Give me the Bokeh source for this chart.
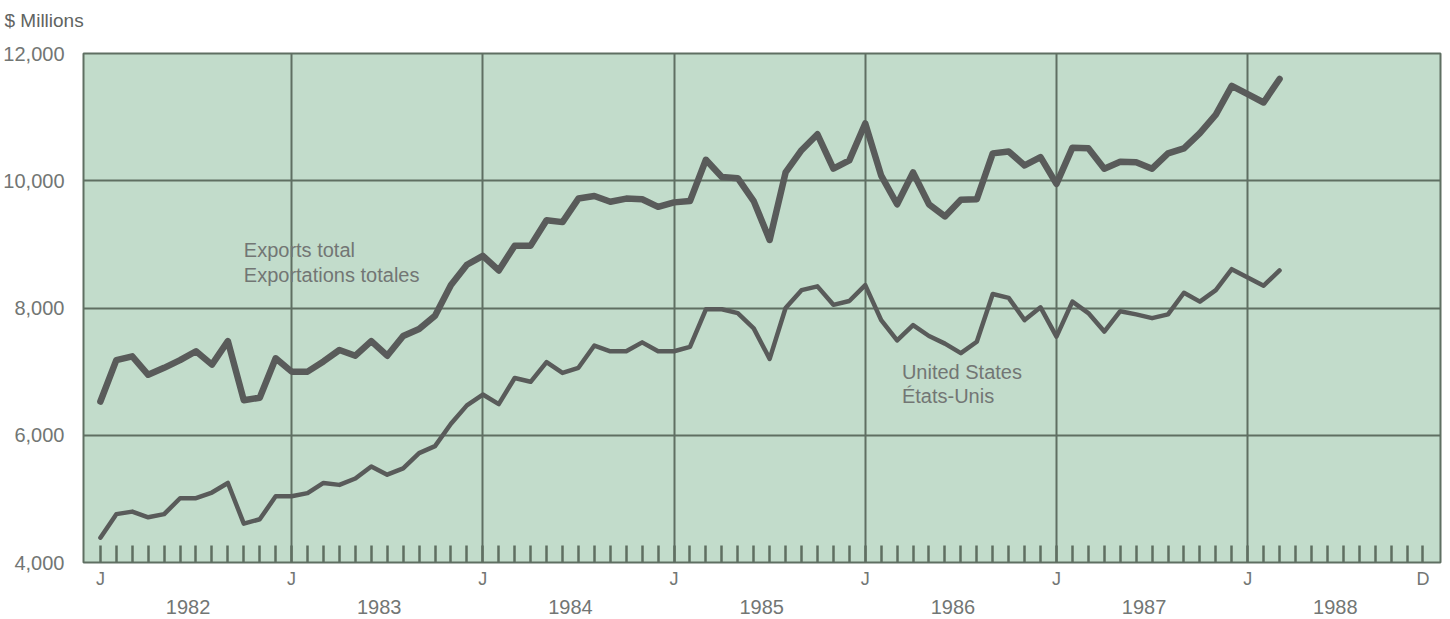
from bokeh.plotting import figure
from bokeh.models import FixedTicker, LinearAxis, Label, Range1d, NumeralTickFormatter
from bokeh.embed import file_html
from bokeh.resources import INLINE

# Monthly data, Jan 1982 (index 0) .. Mar 1988 (index 74), $ millions
months = list(range(75))
exports_total = [6530, 7180, 7240, 6950, 7060, 7180, 7320, 7110, 7480, 6550, 6590, 7210,
                 7000, 7000, 7160, 7340, 7250, 7480, 7250, 7560, 7670, 7880, 8360, 8680,
                 8820, 8590, 8980, 8980, 9380, 9350, 9720, 9760, 9670, 9720, 9710, 9590,
                 9660, 9680, 10330, 10060, 10040, 9680, 9070, 10130, 10480, 10730, 10190, 10320,
                 10900, 10080, 9630, 10130, 9630, 9440, 9700, 9710, 10430, 10460, 10240, 10370,
                 9950, 10520, 10510, 10190, 10300, 10290, 10190, 10430, 10510, 10750, 11040, 11490,
                 11360, 11230, 11600]
united_states = [4390, 4760, 4800, 4710, 4760, 5010, 5010, 5100, 5250, 4610, 4680, 5040,
                 5040, 5090, 5250, 5220, 5320, 5510, 5380, 5480, 5720, 5830, 6180, 6470,
                 6640, 6490, 6900, 6840, 7150, 6980, 7060, 7410, 7320, 7320, 7460, 7320,
                 7320, 7390, 7980, 7980, 7920, 7680, 7200, 8000, 8280, 8340, 8050, 8110,
                 8360, 7810, 7490, 7730, 7560, 7440, 7290, 7470, 8220, 8160, 7810, 8010,
                 7550, 8100, 7920, 7630, 7950, 7900, 7840, 7900, 8240, 8100, 8280, 8610,
                 8480, 8350, 8590]

years = ["1982", "1983", "1984", "1985", "1986", "1987", "1988"]
month_ticks = list(range(84))          # every month Jan 1982 .. Dec 1988
month_letters = {0: "J", 12: "J", 24: "J", 36: "J", 48: "J", 60: "J", 72: "J", 83: "D"}
y_ticks = [4000, 6000, 8000, 10000, 12000]

FONT = "Liberation Sans"
GRID = "#5f6f62"
LINE = "#595b5a"
TXT = "#727674"

p = figure(width=1442, height=617, output_backend="svg", toolbar_location=None,
           x_range=Range1d(-1.06, 84.1), y_range=Range1d(4000, 12000),
           min_border_left=80, min_border_right=2, min_border_top=53, min_border_bottom=55,
           x_axis_location=None, y_axis_location=None)
p.background_fill_color = "#c2dccb"
p.border_fill_color = "white"
p.outline_line_color = GRID
p.outline_line_width = 2

# unit caption (second, blank line lifts the caption towards the top edge)
p.title.text = "$ Millions\n "
p.title.align = "left"
p.title.offset = -79
p.title.standoff = 3
p.title.text_font = FONT
p.title.text_font_size = "19px"
p.title.text_font_style = "normal"
p.title.text_color = "#5f6461"

# grids
p.xgrid.ticker = FixedTicker(ticks=[12, 24, 36, 48, 60, 72])
p.ygrid.ticker = FixedTicker(ticks=[6000, 8000, 10000])
for g in (p.xgrid[0], p.ygrid[0]):
    g.grid_line_color = GRID
    g.grid_line_width = 2
    g.grid_line_alpha = 1

# y axis
yax = LinearAxis(ticker=FixedTicker(ticks=y_ticks), formatter=NumeralTickFormatter(format="0,0"))
yax.axis_line_color = None
yax.major_tick_line_color = None
yax.minor_tick_line_color = None
yax.major_label_standoff = 13
yax.major_label_text_font = FONT
yax.major_label_text_font_size = "20px"
yax.major_label_text_color = TXT
p.add_layout(yax, "left")

# month ticks + J/D labels
xax = LinearAxis(ticker=FixedTicker(ticks=month_ticks))
xax.major_label_overrides = {m: month_letters.get(m, "") for m in month_ticks}
xax.axis_line_color = None
xax.major_tick_in = 17
xax.major_tick_out = 0
xax.major_tick_line_color = GRID
xax.major_tick_line_width = 2.5
xax.minor_tick_line_color = None
xax.major_label_standoff = 6
xax.major_label_text_font = FONT
xax.major_label_text_font_size = "18px"
xax.major_label_text_color = TXT
p.add_layout(xax, "below")

# year labels centred in each year
year_pos = [5.5 + 12 * i for i in range(len(years))]
yrax = LinearAxis(ticker=FixedTicker(ticks=year_pos))
yrax.major_label_overrides = {pos: yr for pos, yr in zip(year_pos, years)}
yrax.axis_line_color = None
yrax.major_tick_line_color = None
yrax.minor_tick_line_color = None
yrax.major_label_standoff = 2
yrax.major_label_text_font = FONT
yrax.major_label_text_font_size = "20px"
yrax.major_label_text_color = TXT
p.add_layout(yrax, "below")

# series
p.line(months, exports_total, line_color=LINE, line_width=6.5, line_join="round", line_cap="round")
p.line(months, united_states, line_color=LINE, line_width=4.5, line_join="round", line_cap="round")

# annotations
def lab(x, y, t, size="20px"):
    p.add_layout(Label(x=x, y=y, text=t, text_font=FONT, text_font_size=size,
                       text_color=TXT, text_baseline="middle", text_align="left"))

lab(9.0, 8907, "Exports total")
lab(9.0, 8523, "Exportations totales")
lab(50.3, 6990, "United States")
lab(50.3, 6617, "États-Unis")

open("out.html", "w").write(file_html(p, INLINE))
